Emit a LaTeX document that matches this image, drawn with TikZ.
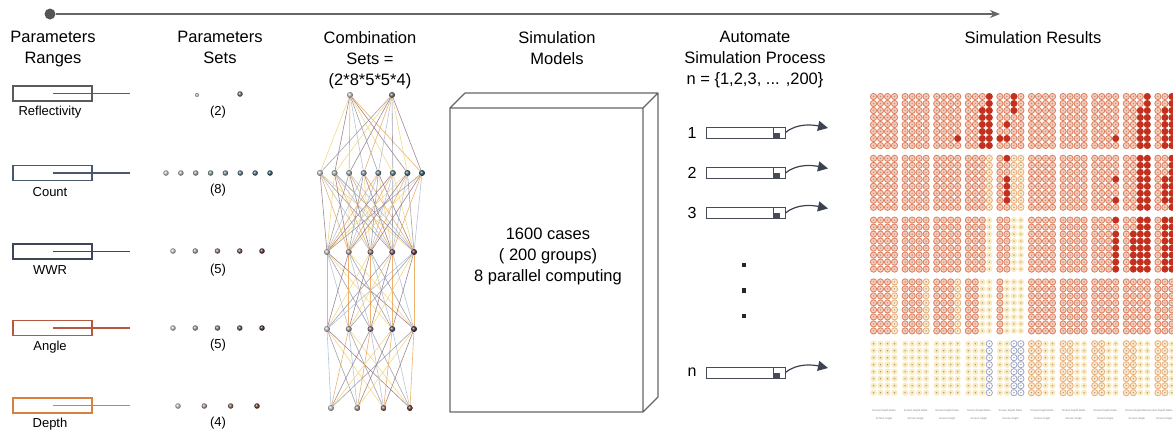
\documentclass[tikz,border=0pt]{standalone}
\usepackage{fontspec}
\setmainfont{Liberation Sans}
\usetikzlibrary{arrows.meta,backgrounds}
\definecolor{tlc}{HTML}{666666}
\definecolor{tdot}{HTML}{555555}
\definecolor{pr1}{HTML}{5A5A5F}
\definecolor{pr2}{HTML}{4B5670}
\definecolor{pr3}{HTML}{3F4658}
\definecolor{pr4}{HTML}{B45A40}
\definecolor{pr5}{HTML}{D9803C}
\definecolor{lgr}{HTML}{C4C4C4}
\definecolor{dteal}{HTML}{2C5866}
\definecolor{dmar}{HTML}{5E2838}
\definecolor{dpur}{HTML}{3E2A40}
\definecolor{dbrn}{HTML}{6E3428}
\definecolor{dgry}{HTML}{6E6E72}
\definecolor{ec0}{HTML}{8C8C98}
\definecolor{ec1}{HTML}{E8A04A}
\definecolor{ec2}{HTML}{F2CF6A}
\definecolor{ec3}{HTML}{A3B6D2}
\definecolor{ec4}{HTML}{8A6A78}
\definecolor{boxc}{HTML}{666666}
\definecolor{procc}{HTML}{474B58}
\definecolor{arrc}{HTML}{3B4252}
\definecolor{hmringd}{HTML}{E0805F}
\definecolor{hmringf}{HTML}{F6CDBB}
\definecolor{hmred}{HTML}{C3301F}
\definecolor{hmpale}{HTML}{FBEBBF}
\definecolor{hmyd}{HTML}{EBAF7C}
\definecolor{hmyf}{HTML}{FCEBCB}
\definecolor{hmblue}{HTML}{9AA3C4}
\definecolor{hmnum}{HTML}{A89A90}
\newcommand\hmred[4]{\fill[hmred] ({873.5+31.6*#1+7*#4},{96.5+61.8*#2+7*#3}) circle[radius=3.4];}
\begin{document}
\begin{tikzpicture}[x=1pt,y=-1pt,
  hdr/.style={font=\fontsize{16.5}{21}\selectfont, align=center, anchor=north, inner sep=0pt},
  lbl/.style={font=\fontsize{13}{15}\selectfont, inner sep=0pt},
  prbox/.style={draw=#1, line width=1.2, minimum width=79, minimum height=15, inner sep=0pt},
  prline/.style={draw=#1, line width=1.1},
  sdot/.style={circle, inner sep=0pt, minimum size=5.5, shading=ball, ball color=#1},
  cdot/.style={circle, inner sep=0pt, minimum size=6, shading=ball, ball color=#1},
  edge/.style={line width=0.6, draw opacity=0.8},
  bar/.style={draw=procc, line width=1, minimum width=79, minimum height=11, inner sep=0pt, fill=white},
  parr/.style={draw=arrc, line width=1.2, -{Triangle[length=10,width=10]}},
  hmring/.style={draw=hmringd, fill=hmringf, line width=0.85},
  hmpale/.style={fill=hmpale},
  hmyring/.style={draw=hmyd, fill=hmyf, line width=0.85},
  hmbring/.style={draw=hmblue, fill=white, line width=0.8},
  tiny/.style={font=\fontsize{2.7}{3.5}\selectfont, text=gray, inner sep=0pt}
]
\useasboundingbox (0,0) rectangle (1173,432);

% timeline
\node[circle, fill=tdot, minimum size=11, inner sep=0pt] (tstart) at (50,14) {};
\coordinate (tend) at (1000,14);
\draw[line width=1.5, draw=tlc, -{Stealth[length=10,width=8]}] (tstart) -- (tend);

% headers
\node[hdr] (h1) at (53,31) {Parameters\\Ranges};
\node[hdr] (h2) at (220,31) {Parameters\\Sets};
\node[hdr] (h3) at (370,31) {Combination\\Sets =\\(2*8*5*5*4)};
\node[hdr] (h4) at (557,31) {Simulation\\Models};
\node[hdr] (h5) at (755,31) {Automate\\Simulation Process\\n = \{1,2,3, ... ,200\}};
\node[hdr] (h6) at (1033,31) {Simulation Results};

% parameter ranges
\foreach \k/\y/\col/\name in {1/93.5/pr1/Reflectivity, 2/173/pr2/Count, 3/251.5/pr3/WWR, 4/328/pr4/Angle, 5/405.5/pr5/Depth}{
  \node[prbox=\col] (pb\k) at (52.5,\y) {};
  \coordinate (pls\k) at (53,\y);
  \coordinate (ple\k) at (130,\y);
  \draw[prline=\col] (pls\k) -- (ple\k);
  \node[lbl] (pl\k) at (50,\y+19) {\name};
}

% parameter sets
\node[sdot=lgr, minimum size=4] (s1-1) at (197,95) {};
\node[sdot=dgry] (s1-2) at (240,94) {};
\node[lbl] (sn1) at (218,112) {(2)};
\foreach \i [evaluate=\i as \f using 100*(\i-1)/7] in {1,...,8}{
  \node[sdot=dteal!\f!lgr] (s2-\i) at ({166+(\i-1)*104/7},173) {};
}
\node[lbl] (sn2) at (218,190) {(8)};
\foreach \i [evaluate=\i as \f using 100*(\i-1)/4] in {1,...,5}{
  \node[sdot=dmar!\f!lgr] (s3-\i) at ({173+(\i-1)*22.25},251) {};
  \node[sdot=dpur!\f!lgr] (s4-\i) at ({173+(\i-1)*22.25},328) {};
}
\node[lbl] (sn3) at (218,270) {(5)};
\node[lbl] (sn4) at (218,345) {(5)};
\foreach \i [evaluate=\i as \f using 100*(\i-1)/3] in {1,...,4}{
  \node[sdot=dbrn!\f!lgr] (s5-\i) at ({178+(\i-1)*26.33},406) {};
}
\node[lbl] (sn5) at (218,423) {(4)};

% combination network nodes
\node[cdot=lgr] (c1-1) at (350,95) {};
\node[cdot=dgry] (c1-2) at (392,95) {};
\foreach \i [evaluate=\i as \f using 100*(\i-1)/7] in {1,...,8}{
  \node[cdot=dteal!\f!lgr] (c2-\i) at ({320+(\i-1)*102/7},173) {};
}
\foreach \i [evaluate=\i as \f using 100*(\i-1)/4] in {1,...,5}{
  \node[cdot=dmar!\f!lgr] (c3-\i) at ({327+(\i-1)*21.75},252) {};
  \node[cdot=dpur!\f!lgr] (c4-\i) at ({327+(\i-1)*21.75},329) {};
}
\foreach \i [evaluate=\i as \f using 100*(\i-1)/3] in {1,...,4}{
  \node[cdot=dbrn!\f!lgr] (c5-\i) at ({331+(\i-1)*26.33},408) {};
}
\begin{scope}[on background layer]
  \fill[white] (0,0) rectangle (1173,432);
  \foreach \a/\na/\b/\nb in {1/2/2/8, 2/8/3/5, 3/5/4/5, 4/5/5/4}{
    \foreach \i in {1,...,\na}{
      \foreach \j in {1,...,\nb}{
        \pgfmathtruncatemacro\k{mod(\i*3+\j*7+\a*2,5)}
        \draw[edge, draw=ec\k] (c\a-\i) -- (c\b-\j);
      }
    }
  }
\end{scope}

% simulation models prism
\draw[draw=boxc, line width=1.2, line join=round]
  (450,108) rectangle (643,412)
  (450,108) -- (465,93) -- (658,93) -- (643,108)
  (658,93) -- (658,397) -- (643,412);
\node[font=\fontsize{16.5}{21}\selectfont, align=center, inner sep=0pt] (models) at (548,256) {1600 cases\\( 200 groups)\\8 parallel computing};

% automate simulation process
\foreach \k/\y/\t in {1/132.5/1, 2/173/2, 3/213/3, n/372.5/n}{
  \node[font=\fontsize{16}{18}\selectfont, inner sep=0pt] (pn\k) at (692,\y) {\t};
  \node[bar] (bar\k) at (745.5,\y) {};
  \draw[draw=procc, line width=0.9] (773,\y-5.5) rectangle (785,\y+5.5);
  \fill[procc] (773,\y) rectangle (779.5,\y+5.5);
  \coordinate (tip\k) at (828,\y-4.5);
  \draw[parr] (bar\k.east) .. controls +(12,-10) and +(-14,-3) .. (tip\k);
}
\foreach \k/\y in {1/265, 2/290.5, 3/316}{
  \node[fill=black!85, minimum size=4.5, inner sep=0pt] (dd\k) at (744,\y) {};
}

% simulation results heatmap
\begin{scope}
\clip (840,85) rectangle (1173,432);
\foreach \p in {0,...,9}{
 \foreach \b in {0,...,4}{
  \foreach \r in {0,...,7}{
   \foreach \c in {0,...,3}{
     \def\st{hmring}%
     \ifnum\b=4\relax
       \ifnum\p<5\relax
         \def\st{hmpale}%
         \ifnum\p=3\relax \ifnum\c=3\relax \def\st{hmbring}\fi\fi
         \ifnum\p=4\relax \ifnum\c>1\relax \def\st{hmbring}\fi\fi
       \else
         \ifnum\c>1\relax \def\st{hmpale}\else \def\st{hmyring}\fi
       \fi
     \fi
     \ifnum\b=3\relax
       \ifnum\p<3\relax \ifnum\c=3\relax \def\st{hmyring}\fi\fi
       \ifnum\p=3\relax \ifnum\c>1\relax \def\st{hmpale}\fi\fi
       \ifnum\p=4\relax \ifnum\c>0\relax \def\st{hmpale}\fi\fi
     \fi
     \ifnum\b=2\relax
       \ifnum\p=3\relax \ifnum\c=3\relax \def\st{hmpale}\fi\fi
       \ifnum\p=4\relax \ifnum\c>1\relax \def\st{hmpale}\fi\fi
     \fi
     \ifnum\b=1\relax
       \ifnum\p=3\relax \ifnum\c=3\relax \def\st{hmyring}\fi\fi
       \ifnum\p=4\relax \ifnum\c>1\relax \def\st{hmyring}\fi\fi
     \fi
     \path[\st] ({873.5+31.6*\p+7*\c},{96.5+61.8*\b+7*\r}) circle[radius=3.1];
     \fill[hmnum] ({873.5+31.6*\p+7*\c},{96.5+61.8*\b+7*\r}) circle[radius=0.8];
   }
  }
 }
}
\foreach \r in {0,...,7}{\hmred{3}{0}{\r}{3}\hmred{8}{0}{\r}{3}\hmred{8}{1}{\r}{2}\hmred{8}{1}{\r}{3}\hmred{8}{2}{\r}{2}\hmred{8}{2}{\r}{3}\hmred{9}{0}{\r}{2}\hmred{9}{0}{\r}{3}\hmred{9}{1}{\r}{2}\hmred{9}{1}{\r}{3}\hmred{9}{2}{\r}{1}\hmred{9}{2}{\r}{2}\hmred{9}{2}{\r}{3}}
\foreach \r in {2,...,7}{\hmred{3}{0}{\r}{2}\hmred{8}{0}{\r}{2}\hmred{8}{2}{\r}{1}\hmred{7}{2}{\r}{3}\hmred{9}{0}{\r}{1}}
\foreach \r in {0,1,2}{\hmred{4}{0}{\r}{2}}
\foreach \r in {0,3,4,5,6}{\hmred{4}{1}{\r}{1}}
\foreach \r in {3,4,5,6}{\hmred{9}{1}{\r}{1}}
\hmred{2}{0}{6}{3}\hmred{4}{0}{4}{1}\hmred{4}{0}{6}{0}\hmred{4}{0}{6}{1}
\hmred{7}{0}{6}{3}\hmred{7}{1}{3}{3}\hmred{7}{1}{6}{3}\hmred{7}{2}{0}{3}
\end{scope}
\foreach \p in {0,...,8}{
  \node[tiny] (hd\p) at ({884+31.6*\p},411) {Screen Depth Ratio};
  \node[tiny] (ha\p) at ({884+31.6*\p},419) {Screen Angle};
}
\node[tiny, anchor=east] (hd9) at (1172.5,411) {Screen Depth Ratio};
\node[tiny, anchor=east] (ha9) at (1172.5,419) {Screen Angle};
\end{tikzpicture}
\end{document}
